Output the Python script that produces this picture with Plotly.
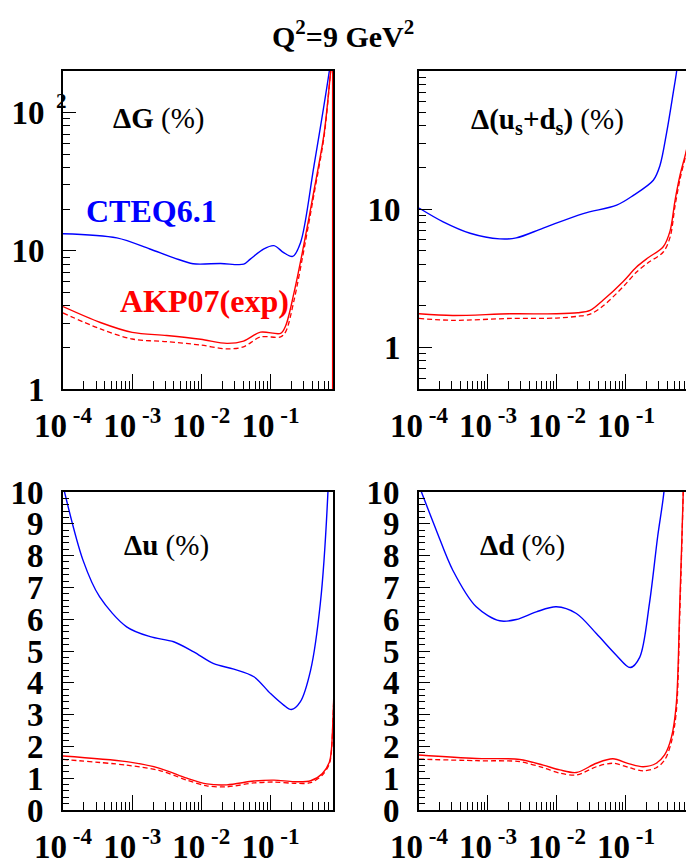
import math
import plotly.graph_objects as go

# ---------------- data ----------------
# Panel: Delta G (%)  (top-left, log-log)
g_cteq_x = [1.0e-4, 6.0e-4, 1.8e-3, 4.0e-3, 7.6e-3, 0.019, 0.041, 0.051, 0.079, 0.112, 0.155, 0.209, 0.272, 0.424, 0.708, 0.85]
g_cteq_y = [13.3, 12.4, 10.3, 8.9, 8.06, 8.1, 8.0, 8.7, 10.3, 10.9, 9.7, 9.1, 11.5, 41, 200, 400]
g_akp_x = [1e-4, 3.47e-4, 1e-3, 3.16e-3, 9.77e-3, 0.0234, 0.0407, 0.0716, 0.14, 0.166, 0.219, 0.288, 0.427, 0.596, 0.741, 0.85]
g_akp_y = [3.95, 3.03, 2.57, 2.44, 2.29, 2.14, 2.22, 2.58, 2.53, 2.88, 5.0, 9.7, 27.7, 71, 200, 400]
# the solid AKP07 curve drops back down along the right edge of the panel
g_akp_edge_x = [0.79, 0.79]
g_akp_edge_y = [250, 1.0]
g_akpd_x = [1e-4, 3.47e-4, 1e-3, 3.16e-3, 9.77e-3, 0.0234, 0.0407, 0.0716, 0.14, 0.166, 0.219, 0.288, 0.427, 0.596, 0.741, 0.85]
g_akpd_y = [3.55, 2.72, 2.3, 2.2, 2.08, 1.95, 2.02, 2.38, 2.38, 2.6, 4.4, 8.8, 26, 68, 200, 400]

# Panel: Delta(us+ds) (%)  (top-right, log-log)
s_cteq_x = [1e-4, 2.24e-4, 5.5e-4, 1.48e-3, 2.57e-3, 6.31e-3, 0.024, 0.0733, 0.128, 0.249, 0.311, 0.389, 0.485, 0.543, 0.631]
s_cteq_y = [10.2, 8.1, 6.7, 6.1, 6.2, 7.3, 9.3, 10.7, 12.6, 16.2, 20.7, 36, 70, 100, 200]
s_akp_x = [1e-4, 3.09e-4, 2.09e-3, 9.77e-3, 0.02, 0.0302, 0.0468, 0.0912, 0.141, 0.209, 0.347, 0.437, 0.513, 0.607, 0.741, 0.891]
s_akp_y = [1.75, 1.70, 1.75, 1.75, 1.78, 1.85, 2.2, 3.0, 3.8, 4.45, 5.35, 7.0, 11.5, 17.6, 25.9, 40]
s_akpd_x = [1e-4, 3.09e-4, 2.09e-3, 9.77e-3, 0.02, 0.0302, 0.0468, 0.0912, 0.141, 0.209, 0.347, 0.437, 0.513, 0.607, 0.741, 0.891]
s_akpd_y = [1.62, 1.57, 1.62, 1.63, 1.68, 1.74, 2.0, 2.75, 3.5, 4.1, 4.9, 6.3, 10.5, 16.5, 25, 40]

# Panel: Delta u (%)  (bottom-left, log-x / linear-y)
u_cteq_x = [1e-4, 1.95e-4, 3.39e-4, 8.32e-4, 1.82e-3, 3.98e-3, 7.76e-3, 0.0151, 0.0295, 0.0575, 0.1, 0.155, 0.2, 0.269, 0.38, 0.525, 0.676, 0.759]
u_cteq_y = [10.2, 7.85, 6.7, 5.76, 5.45, 5.29, 4.97, 4.6, 4.43, 4.19, 3.66, 3.3, 3.16, 3.4, 4.4, 6.5, 10, 14]
u_akp_x = [1e-4, 8.32e-4, 2.51e-3, 6.17e-3, 0.012, 0.0234, 0.0575, 0.112, 0.219, 0.38, 0.562, 0.708, 0.759, 0.80, 0.851]
u_akp_y = [1.70, 1.52, 1.31, 1.0, 0.82, 0.79, 0.91, 0.94, 0.89, 0.92, 1.15, 1.5, 1.9, 2.9, 4.5]
u_akpd_x = [1e-4, 8.32e-4, 2.51e-3, 6.17e-3, 0.012, 0.0234, 0.0575, 0.112, 0.219, 0.38, 0.562, 0.708, 0.759, 0.80, 0.851]
u_akpd_y = [1.59, 1.41, 1.24, 0.94, 0.76, 0.73, 0.85, 0.88, 0.84, 0.86, 1.1, 1.45, 1.85, 2.85, 4.5]

# Panel: Delta d (%)  (bottom-right, log-x / linear-y)
d_cteq_x = [1e-4, 1.78e-4, 3.09e-4, 6.76e-4, 1.48e-3, 2.57e-3, 5.01e-3, 9.77e-3, 0.0191, 0.0372, 0.0724, 0.115, 0.158, 0.219, 0.288, 0.355, 0.398]
d_cteq_y = [10.2, 8.8, 7.54, 6.39, 5.95, 5.99, 6.23, 6.39, 6.18, 5.55, 4.87, 4.48, 4.8, 6.5, 8.6, 10, 11.5]
d_akp_x = [1e-4, 6.76e-4, 2.88e-3, 6.31e-3, 0.011, 0.0191, 0.0372, 0.0646, 0.112, 0.178, 0.275, 0.363, 0.457, 0.537, 0.603, 0.676, 0.724]
d_akp_y = [1.73, 1.62, 1.59, 1.41, 1.26, 1.18, 1.47, 1.61, 1.45, 1.36, 1.47, 1.73, 2.3, 3.35, 6.5, 10, 13]
d_akpd_x = [1e-4, 6.76e-4, 2.88e-3, 6.31e-3, 0.011, 0.0191, 0.0372, 0.0646, 0.112, 0.178, 0.275, 0.363, 0.457, 0.537, 0.603, 0.676, 0.724]
d_akpd_y = [1.6, 1.55, 1.52, 1.33, 1.16, 1.1, 1.36, 1.47, 1.33, 1.23, 1.33, 1.57, 2.15, 3.1, 6.2, 10, 13]

# tick labels
x_tickvals = [1e-4, 1e-3, 1e-2, 1e-1]
x_ticktext = ["10<sup> -4</sup>", "10<sup> -3</sup>", "10<sup> -2</sup>", "10<sup> -1</sup>"]
x_minor = [k * 10.0 ** e for e in range(-4, 0) for k in range(2, 10)]
g_tickvals = [1, 10, 100]
g_ticktext = ["1", "10", "10"]   # the exponent "2" of 10^2 is drawn ROOT-style, shifted right
s_tickvals = [1, 10]
s_ticktext = ["1", "10"]
logy_minor = [k * 10.0 ** e for e in range(-1, 3) for k in range(2, 10)]
lin_tickvals = list(range(0, 11))

BLUE = "#0000ff"
RED = "#ff0000"
FONT = "Liberation Serif"

W, H = 686, 865
def px(x): return x / W
def py(y): return 1 - y / H

fig = go.Figure()

def add_panel(idx, cx, cy, ax, ay, adx, ady):
    xa = "x" if idx == 1 else f"x{idx}"
    ya = "y" if idx == 1 else f"y{idx}"
    fig.add_trace(go.Scatter(x=cx, y=cy, mode="lines", xaxis=xa, yaxis=ya,
                             line=dict(color=BLUE, width=1.4, shape="spline", smoothing=0.9)))
    fig.add_trace(go.Scatter(x=adx, y=ady, mode="lines", xaxis=xa, yaxis=ya,
                             line=dict(color=RED, width=1.3, dash="5px,3px", shape="spline", smoothing=0.9)))
    fig.add_trace(go.Scatter(x=ax, y=ay, mode="lines", xaxis=xa, yaxis=ya,
                             line=dict(color=RED, width=1.4, shape="spline", smoothing=0.9)))

add_panel(1, g_cteq_x, g_cteq_y, g_akp_x, g_akp_y, g_akpd_x, g_akpd_y)
fig.add_trace(go.Scatter(x=g_akp_edge_x, y=g_akp_edge_y, mode="lines", xaxis="x", yaxis="y",
                         line=dict(color=RED, width=1.4)))
add_panel(2, s_cteq_x, s_cteq_y, s_akp_x, s_akp_y, s_akpd_x, s_akpd_y)
add_panel(3, u_cteq_x, u_cteq_y, u_akp_x, u_akp_y, u_akpd_x, u_akpd_y)
add_panel(4, d_cteq_x, d_cteq_y, d_akp_x, d_akp_y, d_akpd_x, d_akpd_y)

tickfont = dict(family=FONT, size=33, color="black", weight="bold")

def xaxis(domain, rng, anchor):
    return dict(domain=domain, type="log", range=rng, anchor=anchor, automargin=False,
                showline=True, linecolor="black", linewidth=2, mirror=True,
                ticks="inside", ticklen=15, tickwidth=1, tickcolor="black",
                tickvals=x_tickvals, ticktext=x_ticktext, tickfont=tickfont,
                ticklabelstandoff=6,
                minor=dict(tickvals=x_minor, ticks="inside", ticklen=8, tickwidth=1, tickcolor="black"),
                showgrid=False, zeroline=False)

def ylog(domain, rng, anchor, tv, tt):
    return dict(domain=domain, type="log", range=rng, anchor=anchor, automargin=False,
                showline=True, linecolor="black", linewidth=2, mirror=True,
                ticks="inside", ticklen=13, tickwidth=1, tickcolor="black",
                tickvals=tv, ticktext=tt, tickfont=tickfont, ticklabelstandoff=10,
                minor=dict(tickvals=logy_minor, ticks="inside", ticklen=7, tickwidth=1, tickcolor="black"),
                showgrid=False, zeroline=False)

def ylin(domain, anchor):
    return dict(domain=domain, type="linear", range=[0, 10], anchor=anchor, automargin=False,
                showline=True, linecolor="black", linewidth=2, mirror=True,
                ticks="inside", ticklen=11, tickwidth=1, tickcolor="black",
                tickvals=lin_tickvals, tickfont=tickfont, ticklabelstandoff=11,
                minor=dict(dtick=0.2, ticks="inside", ticklen=6, tickwidth=1, tickcolor="black"),
                showgrid=False, zeroline=False)

XL = [px(63), px(333)]
XR = [px(419), 1.0]
YT = [py(389), py(71)]
YB = [py(810), py(492)]
rngL = [-4, math.log10(0.8)]
rngR = [-4, -0.130]

fig.update_layout(
    width=W, height=H,
    margin=dict(l=0, r=0, t=0, b=0, autoexpand=False),
    paper_bgcolor="white", plot_bgcolor="white",
    font=dict(family=FONT, color="black"),
    showlegend=False,
    xaxis=xaxis(XL, rngL, "y"),
    yaxis=ylog(YT, [0, math.log10(200)], "x", g_tickvals, g_ticktext),
    xaxis2=xaxis(XR, rngR, "y2"),
    yaxis2=ylog(YT, [math.log10(0.5), 2], "x2", s_tickvals, s_ticktext),
    xaxis3=xaxis(XL, rngL, "y3"),
    yaxis3=ylin(YB, "x3"),
    xaxis4=xaxis(XR, rngR, "y4"),
    yaxis4=ylin(YB, "x4"),
)

def label(text, x, y, size, color="black"):
    fig.add_annotation(text=text, x=px(x), y=py(y), xref="paper", yref="paper",
                       xanchor="center", yanchor="middle", showarrow=False,
                       font=dict(family=FONT, size=size, color=color))

label("<b>Q<sup>2</sup>=9 GeV<sup>2</sup></b>", 343, 34, 30)
label("<b>2</b>", 61, 101, 21)
label("<b>ΔG</b> (%)", 158, 119, 29)
label("<b>Δ(u<sub>s</sub>+d<sub>s</sub>)</b> (%)", 547, 121, 29)
label("<b>CTEQ6.1</b>", 151, 211, 32, BLUE)
label("<b>AKP07(exp)</b>", 204, 301, 32, RED)
label("<b>Δu</b> (%)", 166, 545, 29)
label("<b>Δd</b> (%)", 522, 545, 29)

fig.write_html("out.html")
